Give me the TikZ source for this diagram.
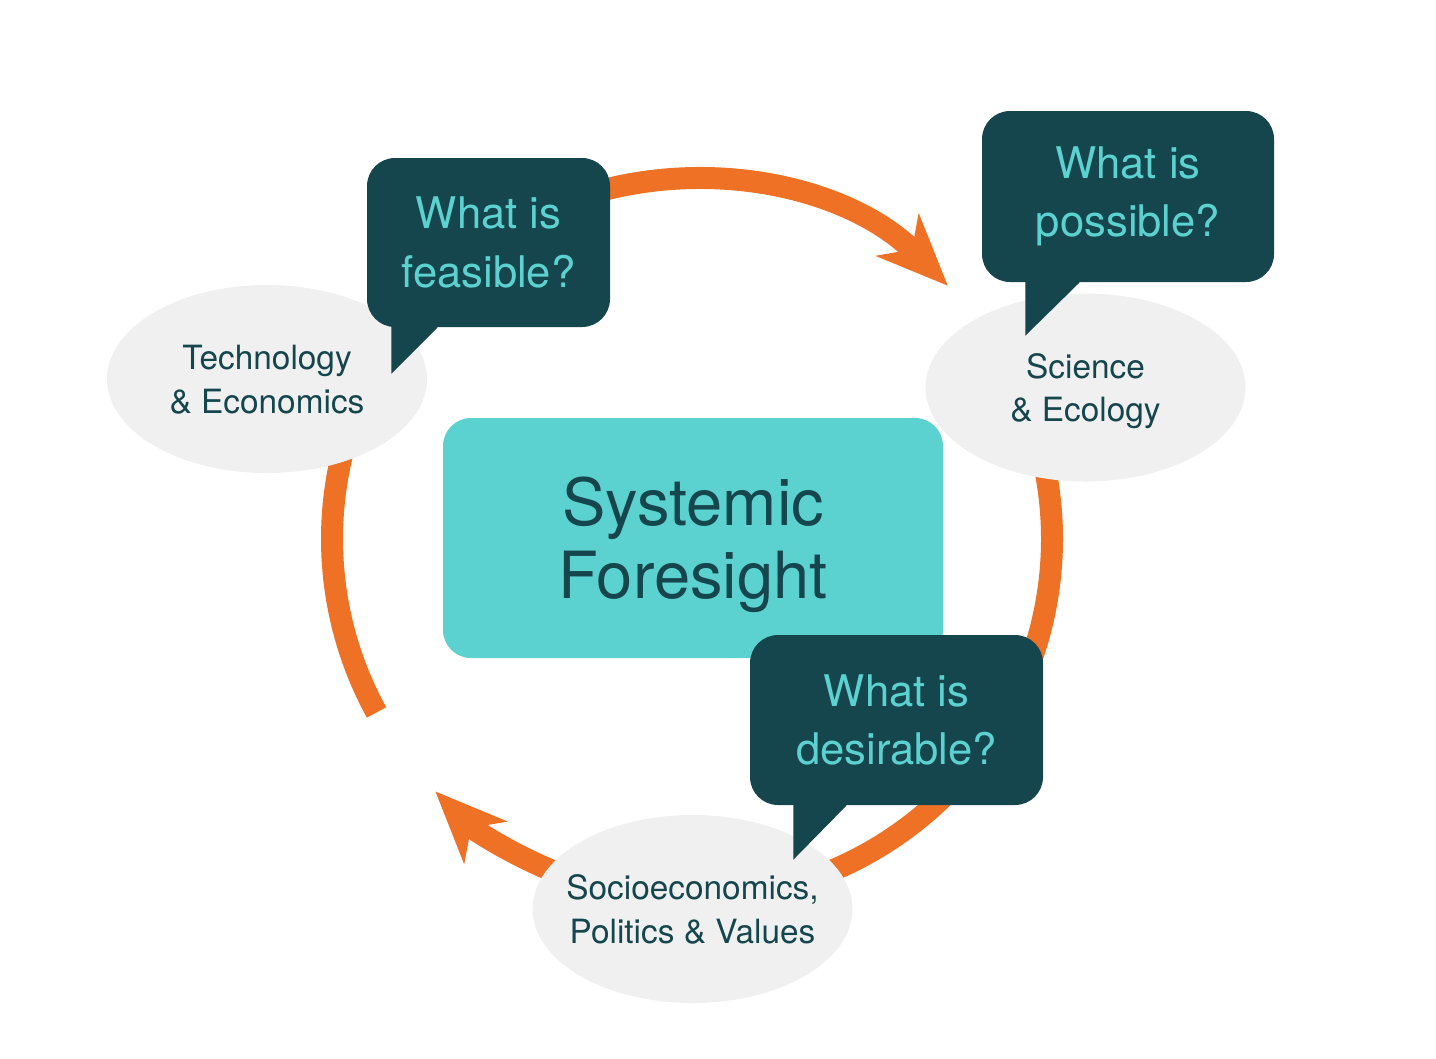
\documentclass[tikz,border=0pt]{standalone}
\usepackage{fontspec}
\setmainfont{TeX Gyre Heros}
\usetikzlibrary{arrows.meta,shapes.geometric}
\definecolor{deepteal}{HTML}{16464D}
\definecolor{aqua}{HTML}{5BD2D0}
\definecolor{flame}{HTML}{EF7126}
\definecolor{mist}{HTML}{F0F0F0}
\begin{document}
\begin{tikzpicture}[
  flow/.style={draw=flame,line width=0.22cm},
  tip/.style={-{Stealth[length=0.71cm,width=0.59cm,inset=0.2cm]}},
  field/.style={ellipse,fill=mist,inner xsep=-0.3cm,inner ysep=0pt,minimum width=3.2cm,minimum height=1.88cm,
    text depth=0pt,text=deepteal,align=center,font=\fontsize{9.5pt}{12.5pt}\selectfont},
  ask/.style={rectangle,fill=deepteal,rounded corners=0.28cm,inner sep=0pt,
    text=aqua,align=center,font=\fontsize{12.4pt}{16.6pt}\selectfont}]
\useasboundingbox (0,0) rectangle (14.36,10.58);
\coordinate (c) at (6.92,5.19);

% the cycle
\draw[flow,tip] ([shift={(110:3.6)}]c) arc[start angle=110,end angle=44.7,radius=3.6];
\draw[flow] ([shift={(20:3.6)}]c) arc[start angle=20,end angle=-72,radius=3.6];
\draw[flow,tip] ([shift={(-110:3.6)}]c) arc[start angle=-110,end angle=-135.5,radius=3.6];
\draw[flow] ([shift={(208.8:3.6)}]c) arc[start angle=208.8,end angle=165,radius=3.6];

\node[field] (tech) at (2.67,6.79) {Technology\\\& Economics};
\node[field] (sci) at (10.855,6.705) {Science\\\& Ecology};
\node[field] (soc) at (6.925,1.49) {Socioeconomics,\\Politics \& Values};

\node[rectangle,fill=aqua,rounded corners=0.28cm,minimum width=5cm,minimum height=2.4cm,text depth=0pt,
  text=deepteal,align=center,font=\fontsize{18.5pt}{20.8pt}\selectfont] (sf) at (6.93,5.2) {Systemic\\Foresight};

\node[ask,minimum width=2.43cm,minimum height=1.69cm] (feas) at (4.885,8.155) {What is\\feasible?};
\fill[deepteal] ([shift={(0.25,0.1)}]feas.south west) -- ([shift={(0.25,-0.46)}]feas.south west)
  -- ([shift={(0.71,0)}]feas.south west) -- ([shift={(0.71,0.1)}]feas.south west) -- cycle;

\node[ask,minimum width=2.92cm,minimum height=1.71cm] (poss) at (11.28,8.615) {What is\\possible?};
\fill[deepteal] ([shift={(0.44,0.1)}]poss.south west) -- ([shift={(0.44,-0.53)}]poss.south west)
  -- ([shift={(0.98,0)}]poss.south west) -- ([shift={(0.98,0.1)}]poss.south west) -- cycle;

\node[ask,minimum width=2.93cm,minimum height=1.70cm] (des) at (8.965,3.38) {What is\\desirable?};
\fill[deepteal] ([shift={(0.44,0.1)}]des.south west) -- ([shift={(0.44,-0.54)}]des.south west)
  -- ([shift={(0.97,0)}]des.south west) -- ([shift={(0.97,0.1)}]des.south west) -- cycle;
\end{tikzpicture}
\end{document}
